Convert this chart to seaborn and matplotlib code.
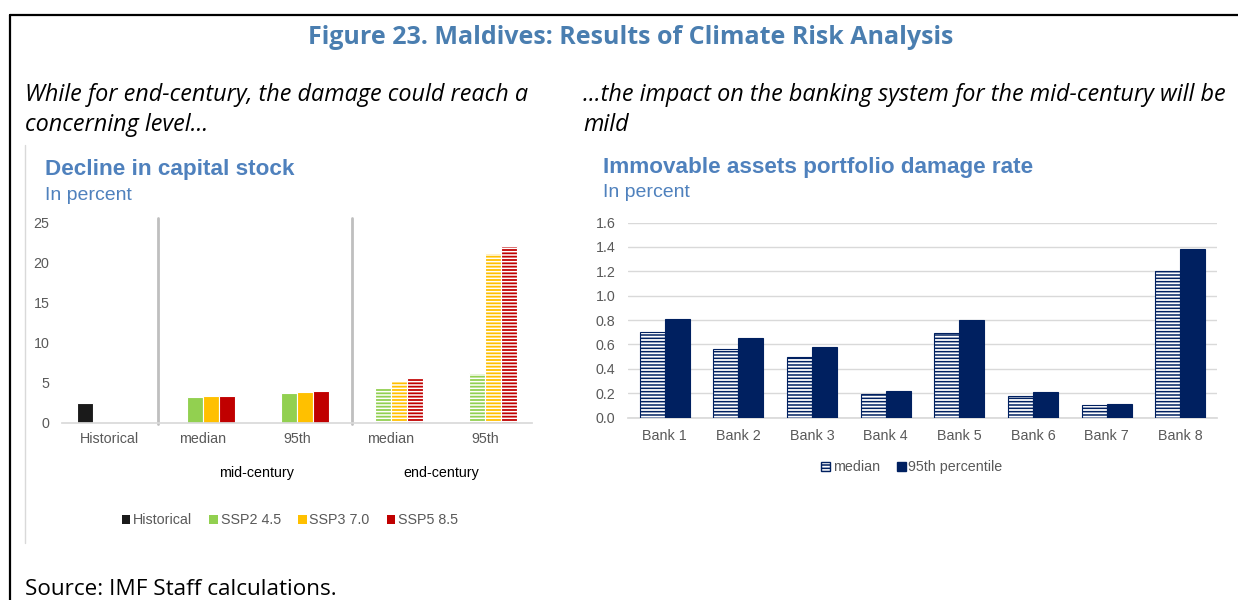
import matplotlib
matplotlib.use("Agg")
import matplotlib.pyplot as plt
import matplotlib.patches as mpatches
import matplotlib.transforms as mtransforms
from matplotlib.lines import Line2D
import pandas as pd
import seaborn as sns

# left chart: decline in capital stock (percent)
groups = ["Historical", "mid median", "mid 95th", "end median", "end 95th"]
group_labels = ["Historical", "median", "95th", "median", "95th"]
scenarios = ["Historical", "SSP2 4.5", "SSP3 7.0", "SSP5 8.5"]
historical = [2.5]
ssp2 = [3.25, 3.75, 4.4, 6.2]
ssp3 = [3.37, 3.87, 5.2, 21.2]
ssp5 = [3.37, 4.0, 5.55, 22.0]
scenario_colors = ["#1a1a1a", "#92D050", "#FFC000", "#C00000"]

# right chart: immovable assets portfolio damage rate (percent)
banks = ["Bank 1", "Bank 2", "Bank 3", "Bank 4", "Bank 5", "Bank 6", "Bank 7", "Bank 8"]
median = [0.70, 0.56, 0.50, 0.19, 0.69, 0.18, 0.10, 1.20]
pct95 = [0.81, 0.65, 0.58, 0.22, 0.80, 0.21, 0.11, 1.38]
stats = ["median", "95th percentile"]
navy = "#002060"

title_blue = "#4A7EB0"
chart_blue = "#4F81BD"
tick_grey = "#595959"


def build_left():
    rows = [{"group": groups[0], "scenario": scenarios[0], "value": historical[0]}]
    for name, vals in zip(scenarios[1:], [ssp2, ssp3, ssp5]):
        for g, v in zip(groups[1:], vals):
            rows.append({"group": g, "scenario": name, "value": v})
    return pd.DataFrame(rows)


def build_right():
    rows = []
    for b, m, p in zip(banks, median, pct95):
        rows.append({"bank": b, "stat": stats[0], "value": m})
        rows.append({"bank": b, "stat": stats[1], "value": p})
    return pd.DataFrame(rows)


sns.set_theme(style="white")
plt.rcParams["font.family"] = ["Liberation Sans", "DejaVu Sans"]
plt.rcParams["hatch.linewidth"] = 1.1

fig = plt.figure(figsize=(12.38, 6.0), dpi=100, facecolor="white")
W, H = 1238.0, 600.0
page_font = ["Open Sans", "DejaVu Sans"]

# page frame
fig.add_artist(Line2D([10 / W, 1], [1 - 15 / H, 1 - 15 / H], color="black", lw=1.6, transform=fig.transFigure))
fig.add_artist(Line2D([10 / W, 10 / W], [0, 1 - 15 / H], color="black", lw=1.6, transform=fig.transFigure))
fig.add_artist(Line2D([25 / W, 25 / W], [1 - 145 / H, 1 - 543 / H], color="#d9d9d9", lw=1, transform=fig.transFigure))

fig.text(631 / W, 1 - 38 / H, "Figure 23. Maldives: Results of Climate Risk Analysis",
         family=page_font, weight="bold", fontsize=18, color=title_blue,
         ha="center", va="center")
fig.text(25 / W, 1 - 110 / H, "While for end-century, the damage could reach a\nconcerning level...",
         family=page_font, style="italic", fontsize=16.8, color="black",
         ha="left", va="center", linespacing=1.32)
fig.text(583 / W, 1 - 110 / H, "...the impact on the banking system for the mid-century will be\nmild",
         family=page_font, style="italic", fontsize=16.8, color="black",
         ha="left", va="center", linespacing=1.32)
fig.text(25 / W, 1 - 579 / H, "Source: IMF Staff calculations.",
         family=page_font, fontsize=16.2, color="black", ha="left", va="top")

# ---- left chart
fig.text(45 / W, 1 - 170 / H, "Decline in capital stock", fontsize=16.2, weight="bold", color=chart_blue, va="center")
fig.text(45 / W, 1 - 195 / H, "In percent", fontsize=14, color=chart_blue, va="center")

ax1 = fig.add_axes([62 / W, 1 - 422.5 / H, 470 / W, 200 / H])
df_left = build_left()
sns.barplot(data=df_left, x="group", y="value", hue="scenario", order=groups, hue_order=scenarios,
            palette=scenario_colors, saturation=1, width=0.68, gap=0, edgecolor="white", linewidth=0.8,
            legend=False, ax=ax1)
for bar in ax1.patches:
    cx = bar.get_x() + bar.get_width() / 2
    if cx > 2.6:
        bar.set_hatch("-----")
        bar.set_edgecolor("white")
ax1.set_xlim(-0.5, 4.5)
ax1.set_ylim(0, 25)
ax1.set_yticks([0, 5, 10, 15, 20, 25])
ax1.set_xticks(range(len(groups)))
ax1.set_xticklabels(group_labels)
ax1.set_xlabel("")
ax1.set_ylabel("")
ax1.tick_params(axis="both", length=0, labelsize=10.3, labelcolor=tick_grey)
ax1.tick_params(axis="y", pad=9)
ax1.tick_params(axis="x", pad=7)
for s in ["top", "right", "left"]:
    ax1.spines[s].set_visible(False)
ax1.spines["bottom"].set_color("#d9d9d9")
for xs in [0.52, 2.59]:
    ax1.axvline(xs, ymin=-0.005, ymax=1.02, color="#bfbfbf", lw=2, clip_on=False)
blend = mtransforms.blended_transform_factory(ax1.transData, ax1.transAxes)
ax1.text(1.57, -0.255, "mid-century", transform=blend, ha="center", va="center", fontsize=10.3, color="black")
ax1.text(3.53, -0.255, "end-century", transform=blend, ha="center", va="center", fontsize=10.3, color="black")
handles = [mpatches.Patch(facecolor=c, edgecolor="none") for c in scenario_colors]
ax1.legend(handles, scenarios, loc="center", bbox_to_anchor=(0.485, -0.49), ncol=4, frameon=False,
           fontsize=10.3, labelcolor=tick_grey, handlelength=0.6, handleheight=0.6,
           handletextpad=0.2, columnspacing=1.2)

# ---- right chart
fig.text(603 / W, 1 - 167 / H, "Immovable assets portfolio damage rate", fontsize=16.2, weight="bold",
         color=chart_blue, va="center")
fig.text(603 / W, 1 - 192 / H, "In percent", fontsize=14, color=chart_blue, va="center")

ax2 = fig.add_axes([628 / W, 1 - 417.5 / H, 589 / W, 195 / H])
df_right = build_right()
sns.barplot(data=df_right, x="bank", y="value", hue="stat", order=banks, hue_order=stats,
            palette=[navy, navy], saturation=1, width=0.68, gap=0, edgecolor=navy, linewidth=0.8,
            legend=False, ax=ax2, zorder=3)
for bar in ax2.containers[0]:
    bar.set_facecolor("white")
    bar.set_hatch("-----")
    bar.set_edgecolor(navy)
ax2.set_xlim(-0.5, 7.5)
ax2.set_ylim(0, 1.6)
ax2.set_yticks([0.0, 0.2, 0.4, 0.6, 0.8, 1.0, 1.2, 1.4, 1.6])
ax2.yaxis.set_major_formatter(matplotlib.ticker.FormatStrFormatter("%.1f"))
ax2.set_xlabel("")
ax2.set_ylabel("")
ax2.grid(axis="y", color="#d9d9d9", lw=1, zorder=0)
ax2.set_axisbelow(True)
ax2.tick_params(axis="both", length=0, labelsize=10.3, labelcolor=tick_grey)
ax2.tick_params(axis="y", pad=9)
ax2.tick_params(axis="x", pad=8)
for s in ["top", "right", "left"]:
    ax2.spines[s].set_visible(False)
ax2.spines["bottom"].set_color("#d9d9d9")
handles2 = [mpatches.Patch(facecolor="white", edgecolor=navy, hatch="-----"),
            mpatches.Patch(facecolor=navy, edgecolor=navy)]
ax2.legend(handles2, stats, loc="center", bbox_to_anchor=(0.482, -0.256), ncol=2, frameon=False,
           fontsize=10.3, labelcolor=tick_grey, handlelength=0.6, handleheight=0.6,
           handletextpad=0.2, columnspacing=1.2)

fig.savefig("out.png", dpi=100, facecolor="white")
